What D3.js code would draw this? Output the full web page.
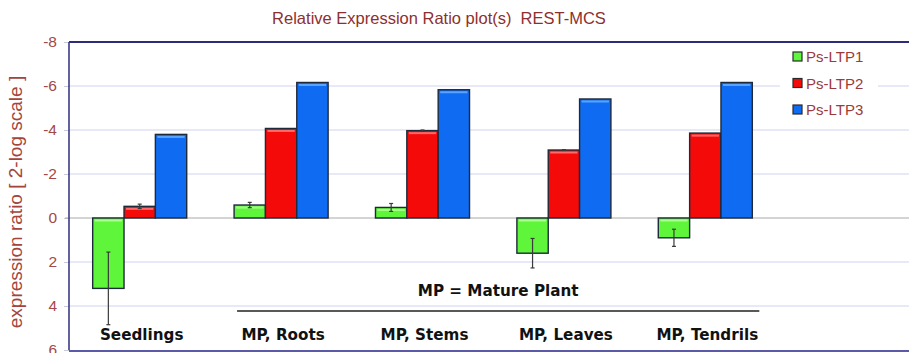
<!DOCTYPE html>
<html>
<head>
<meta charset="utf-8">
<script src="https://cdn.jsdelivr.net/npm/d3@7"></script>
<style>
  html, body { margin: 0; padding: 0; background: #ffffff; }
  svg { display: block; }
</style>
</head>
<body>
<script>
// Relative expression ratios (log2) of three LTP genes per tissue.
// Negative values mean up-regulation; the axis is drawn reversed.
const categories = ["Seedlings", "MP, Roots", "MP, Stems", "MP, Leaves", "MP, Tendrils"];
const seriesNames = ["Ps-LTP1", "Ps-LTP2", "Ps-LTP3"];
const ltp1 = [3.2, -0.59, -0.48, 1.6, 0.9];
const ltp1Err = [1.65, 0.12, 0.18, 0.67, 0.39];
const ltp2 = [-0.53, -4.07, -3.97, -3.09, -3.86];
const ltp2Err = [0.1, 0, 0.03, 0.02, 0];
const ltp3 = [-3.8, -6.16, -5.83, -5.41, -6.16];
const ltp3Err = [0, 0, 0, 0, 0];
const yTicks = [-8, -6, -4, -2, 0, 2, 4, 6];
const seriesColors = ["#5ef53a", "#f50a0a", "#0f6cf2"];
const seriesHighlights = ["#a8ff8c", "#ff6a6a", "#5aa4ff"];

const W = 909, H = 353;
const plot = { left: 69, top: 42, right: 930, bottom: 350 };

const svg = d3.select("body").append("svg")
  .attr("width", W).attr("height", H)
  .style("font-family", "Arial, 'Liberation Sans', sans-serif");

const y = d3.scaleLinear().domain([-8, 6]).range([plot.top, plot.bottom]);
const x0 = d3.scaleBand().domain(categories)
  .range([plot.left, plot.left + 707]).paddingInner(0.335).paddingOuter(0.1675);
const x1 = d3.scaleBand().domain(seriesNames).range([0, x0.bandwidth()]);

const rows = categories.map((c, i) => ({
  cat: c,
  vals: [
    { s: seriesNames[0], v: ltp1[i], e: ltp1Err[i], k: 0 },
    { s: seriesNames[1], v: ltp2[i], e: ltp2Err[i], k: 1 },
    { s: seriesNames[2], v: ltp3[i], e: ltp3Err[i], k: 2 }
  ]
}));

// Title
svg.append("text")
  .attr("x", 439).attr("y", 24)
  .attr("text-anchor", "middle")
  .attr("fill", "#8e2f2f")
  .style("font-size", "16.5px")
  .style("white-space", "pre")
  .text("Relative Expression Ratio plot(s)  REST-MCS");

// Horizontal grid lines
svg.append("g").selectAll("line")
  .data(yTicks.filter(t => t !== 0 && t !== -8 && t !== 6))
  .join("line")
  .attr("x1", plot.left).attr("x2", plot.right)
  .attr("y1", d => y(d)).attr("y2", d => y(d))
  .attr("stroke", "#dfe2f3").attr("stroke-width", 1.3);

// Y axis with ticks and labels
const yAxis = svg.append("g")
  .attr("transform", `translate(${plot.left},0)`)
  .call(d3.axisLeft(y).tickValues(yTicks).tickSize(5).tickPadding(7).tickFormat(d3.format("d")));
yAxis.select(".domain").remove();
yAxis.selectAll(".tick line").attr("stroke", "#c9c9d8");
yAxis.selectAll(".tick text")
  .attr("fill", "#a34848")
  .style("font-size", "15.5px")
  .style("font-family", "Arial, 'Liberation Sans', sans-serif")
  .text(d => d < 0 ? "-" + Math.abs(d) : String(d));

// Zero line
svg.append("line")
  .attr("x1", plot.left - 4).attr("x2", plot.right)
  .attr("y1", y(0)).attr("y2", y(0))
  .attr("stroke", "#a9a9a9").attr("stroke-width", 1.2);

// Y axis title
svg.append("text")
  .attr("transform", `translate(22,${(plot.top + plot.bottom) / 2 + 6}) rotate(-90)`)
  .attr("text-anchor", "middle")
  .attr("fill", "#a3453d")
  .style("font-size", "19px")
  .text("expression ratio [ 2-log scale ]");

// Bars
const groups = svg.append("g").selectAll("g")
  .data(rows).join("g")
  .attr("transform", d => `translate(${x0(d.cat)},0)`);

groups.selectAll("rect.bar")
  .data(d => d.vals).join("rect")
  .attr("class", "bar")
  .attr("x", d => x1(d.s))
  .attr("y", d => Math.min(y(d.v), y(0)))
  .attr("width", x1.bandwidth())
  .attr("height", d => Math.abs(y(d.v) - y(0)))
  .attr("fill", d => seriesColors[d.k])
  .attr("stroke", "#1e2a3a").attr("stroke-width", 1.4);

// Light sheen along the top edge of each bar
groups.selectAll("line.sheen")
  .data(d => d.vals.filter(v => Math.abs(y(v.v) - y(0)) > 5)).join("line")
  .attr("class", "sheen")
  .attr("x1", d => x1(d.s) + 2).attr("x2", d => x1(d.s) + x1.bandwidth() - 2)
  .attr("y1", d => Math.min(y(d.v), y(0)) + 2.5)
  .attr("y2", d => Math.min(y(d.v), y(0)) + 2.5)
  .attr("stroke", d => seriesHighlights[d.k]).attr("stroke-width", 2);

// Error bars
const errs = groups.selectAll("g.err")
  .data(d => d.vals.filter(v => v.e > 0)).join("g").attr("class", "err");
errs.append("line")
  .attr("x1", d => x1(d.s) + x1.bandwidth() / 2)
  .attr("x2", d => x1(d.s) + x1.bandwidth() / 2)
  .attr("y1", d => y(d.v - d.e)).attr("y2", d => y(d.v + d.e))
  .attr("stroke", "#3a3a3a").attr("stroke-width", 1.2);
errs.selectAll("line.cap")
  .data(d => [d.v - d.e, d.v + d.e].map(v => ({ v, d }))).join("line")
  .attr("class", "cap")
  .attr("x1", o => x1(o.d.s) + x1.bandwidth() / 2 - 2)
  .attr("x2", o => x1(o.d.s) + x1.bandwidth() / 2 + 2)
  .attr("y1", o => y(o.v)).attr("y2", o => y(o.v))
  .attr("stroke", "#3a3a3a").attr("stroke-width", 1.2);

// Plot frame: top and left borders, bottom axis line
svg.append("line")
  .attr("x1", plot.left).attr("x2", plot.right)
  .attr("y1", plot.top).attr("y2", plot.top)
  .attr("stroke", "#2c2c78").attr("stroke-width", 2);
svg.append("line")
  .attr("x1", plot.left).attr("x2", plot.left)
  .attr("y1", plot.top).attr("y2", plot.bottom)
  .attr("stroke", "#3a3a86").attr("stroke-width", 1.6);
svg.append("line")
  .attr("x1", plot.left).attr("x2", plot.right)
  .attr("y1", plot.bottom + 1).attr("y2", plot.bottom + 1)
  .attr("stroke", "#5a5aa8").attr("stroke-width", 2);

// Category labels
const catFont = "'DejaVu Sans', Verdana, sans-serif";
svg.append("g").selectAll("text")
  .data(categories).join("text")
  .attr("x", d => x0(d) + x0.bandwidth() / 2 + 2)
  .attr("y", 340)
  .attr("text-anchor", "middle")
  .attr("fill", "#111111")
  .style("font-family", catFont)
  .style("font-weight", "bold")
  .style("font-size", "15.2px")
  .text(d => d);

// Bracket for the mature-plant tissues
const mpStart = x0(categories[1]) + 3;
const mpEnd = x0(categories[4]) + x0.bandwidth() + 7;
svg.append("line")
  .attr("x1", mpStart).attr("x2", mpEnd)
  .attr("y1", 311).attr("y2", 311)
  .attr("stroke", "#222222").attr("stroke-width", 1.6);
svg.append("text")
  .attr("x", (mpStart + mpEnd) / 2)
  .attr("y", 296)
  .attr("text-anchor", "middle")
  .attr("fill", "#111111")
  .style("font-family", catFont)
  .style("font-weight", "bold")
  .style("font-size", "15.2px")
  .text("MP = Mature Plant");

// Legend
const legend = svg.append("g").attr("transform", "translate(780,44)");
legend.append("rect")
  .attr("x", 0).attr("y", 0).attr("width", 98).attr("height", 76)
  .attr("fill", "#ffffff");
const li = legend.selectAll("g.item").data(seriesNames).join("g")
  .attr("class", "item")
  .attr("transform", (d, i) => `translate(13,${8 + i * 26.5})`);
li.append("rect")
  .attr("width", 9).attr("height", 9)
  .attr("fill", (d, i) => seriesColors[i])
  .attr("stroke", "#2a2a2a").attr("stroke-width", 1.2);
li.append("text")
  .attr("x", 13).attr("y", 10)
  .attr("fill", "#9b3a3a")
  .style("font-size", "15px")
  .text(d => d);
</script>
</body>
</html>
